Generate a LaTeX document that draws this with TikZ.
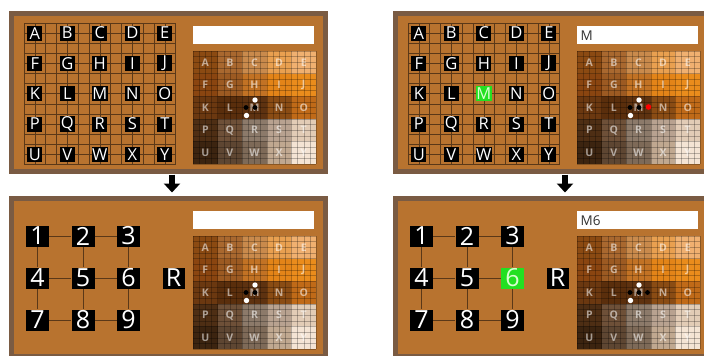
\documentclass[tikz,border=0pt]{standalone}
\usepackage{fontspec}
\setmainfont{Open Sans}
\usetikzlibrary{arrows.meta}
\definecolor{frameC}{HTML}{7A5B43}
\definecolor{innerC}{HTML}{B8732F}
\definecolor{gridC}{HTML}{5A3818}
\definecolor{hlgreen}{HTML}{22E022}
\definecolor{hltext}{HTML}{D8FFD0}
\tikzset{
 lbox/.style={fill=black, text=white, inner sep=0.5pt, minimum width=15pt, minimum height=15pt, font=\fontsize{16.5}{16.5}\selectfont},
 lboxhl/.style={lbox, fill=hlgreen, text=hltext},
 nbox/.style={fill=black, text=white, inner sep=0pt, minimum width=23pt, minimum height=21pt, font=\fontsize{25}{25}\selectfont},
 nboxhl/.style={nbox, fill=hlgreen, text=hltext},
 hlet/.style={text=white, text opacity=0.55, font=\fontsize{10.5}{10.5}\selectfont\bfseries, inner sep=0},
 tbox/.style={fill=white, minimum width=121pt, minimum height=18pt, inner sep=0, anchor=north west},
 ttext/.style={font=\fontsize{13.5}{13.5}\selectfont, text=black!80, anchor=west, inner sep=0},
 wdot/.style={circle, fill=white, minimum size=5.4pt, inner sep=0},
 bdot/.style={circle, fill=black, minimum size=4.8pt, inner sep=0},
 rdot/.style={circle, fill=red, minimum size=5.6pt, inner sep=0},
 link/.style={draw=gridC, line width=0.8pt},
 fineline/.style={draw=gridC, line width=0.6pt},
 heatline/.style={draw=black, opacity=0.25, line width=0.4pt},
 downarrow/.style={line width=6.5pt, -{Triangle[width=16pt,length=9pt]}},
}
\newcommand\pframe{%
 \fill[frameC] (0,0) rectangle (319,163);
 \fill[innerC] (5,5) rectangle (314,158);
}
\newcommand\rpart[2]{%
 \node[tbox] (#1-tb) at (184,15) {};
 \node[ttext] (#1-tt) at ([xshift=3.5pt]#1-tb.west) {#2};
 \foreach \hc [count=\n from 0] in {8B4A12,A9682F,C98A4C,E9A050,F0B070,8A4510,9C5A22,C27224,E38418,EA8C1C,6B3810,5A2E0C,5E3210,8A4C14,C06A18,4E2E14,6E5038,8C7A6A,B8A290,E2CCB6,3C2410,5E4632,7E6A58,C0A890,F4E4D4}{%
   \pgfmathtruncatemacro\cc{mod(\n,5)}%
   \pgfmathtruncatemacro\rr{floor(\n/5)}%
   \definecolor{hcur}{HTML}{\hc}%
   \fill[hcur] (184+\cc*24.6,40+\rr*22.6) rectangle ++(24.6,22.6);
 }
 \foreach \i in {0,...,20}{%
   \draw[heatline] (184+\i*6.15,40) -- ++(0,113);
   \draw[heatline] (184,40+\i*5.65) -- ++(123,0);
 }
 \foreach \L [count=\n from 0] in {A,B,C,D,E,F,G,H,I,J,K,L,M,N,O,P,Q,R,S,T,U,V,W,X,Y}{%
   \pgfmathtruncatemacro\cc{mod(\n,5)}%
   \pgfmathtruncatemacro\rr{floor(\n/5)}%
   \node[hlet] (#1-h\L) at (184+24.6*\cc+12.3,40+22.6*\rr+11.3) {\L};
 }
 \node[wdot] (#1-w1) at (246,89) {};
 \node[wdot] (#1-w2) at (237.5,104.5) {};
 \node[bdot] (#1-b1) at (237,96.5) {};
 \node[bdot] (#1-b2) at (246,96.5) {};
}
\newcommand\letterpart[2]{%
 \foreach \i in {0,...,14}{%
   \draw[fineline] (15+\i*10.833,12) -- ++(0,141.4);
   \draw[fineline] (15,12+\i*10.1) -- ++(151.7,0);
 }
 \foreach \L [count=\n from 0] in {A,B,C,D,E,F,G,H,I,J,K,L,M,N,O,P,Q,R,S,T,U,V,W,X,Y}{%
   \pgfmathtruncatemacro\cc{mod(\n,5)}%
   \pgfmathtruncatemacro\rr{floor(\n/5)}%
   \ifnum\n=#2\relax\def\lsty{lboxhl}\else\def\lsty{lbox}\fi
   \node[\lsty] (#1-L\L) at (15+10.833+32.5*\cc,12+10.1+30.3*\rr) {\L};
 }
}
\newcommand\numberpart[2]{%
 \foreach \d [count=\n from 0] in {1,2,3,4,5,6,7,8,9}{%
   \pgfmathtruncatemacro\cc{mod(\n,3)}%
   \pgfmathtruncatemacro\rr{floor(\n/3)}%
   \ifnum\d=#2\relax\def\nsty{nboxhl}\else\def\nsty{nbox}\fi
   \node[\nsty] (#1-n\d) at (28.5+45.5*\cc,40+42*\rr) {\d};
 }
 \node[nbox, minimum width=22pt] (#1-R) at (164.5,82) {R};
 \foreach \a/\b in {1/2,2/3,4/5,5/6,7/8,8/9,1/4,4/7,2/5,5/8,3/6,6/9}{%
   \draw[link] (#1-n\a) -- (#1-n\b);
 }
}
\begin{document}
\begin{tikzpicture}[x=1pt,y=-1pt]
\useasboundingbox (0,0) rectangle (704,356);
\fill[white] (0,0) rectangle (704,356);
\clip (0,0) rectangle (704,356);
% panel 1
\begin{scope}[shift={(9,11)}]
 \pframe
 \letterpart{p1}{-1}
 \rpart{p1}{}
\end{scope}
% panel 2
\begin{scope}[shift={(393,11)}]
 \pframe
 \letterpart{p2}{12}
 \rpart{p2}{M}
 \node[rdot] (p2-r1) at (255.5,96) {};
\end{scope}
% panel 3
\begin{scope}[shift={(9,196)}]
 \pframe
 \numberpart{p3}{0}
 \rpart{p3}{}
\end{scope}
% panel 4
\begin{scope}[shift={(393,196)}]
 \pframe
 \numberpart{p4}{6}
 \rpart{p4}{M6}
 \node[bdot] (p4-b3) at (254.5,96.5) {};
\end{scope}
\coordinate (a1s) at (172,174.5);
\coordinate (a1e) at (172,192.5);
\draw[downarrow] (a1s) -- (a1e);
\coordinate (a2s) at (565,174.5);
\coordinate (a2e) at (565,192.5);
\draw[downarrow] (a2s) -- (a2e);
\end{tikzpicture}
\end{document}
